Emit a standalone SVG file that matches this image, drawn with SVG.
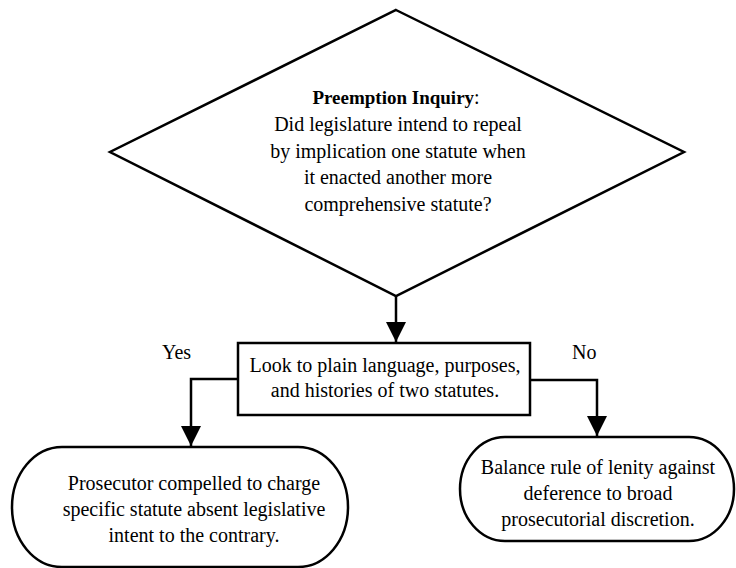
<svg xmlns="http://www.w3.org/2000/svg" width="736" height="568" viewBox="0 0 736 568">
<style>
.s{fill:#fff;stroke:#000;stroke-width:2.5}
.c{fill:none;stroke:#000;stroke-width:2.5}
text{font-family:"Liberation Serif","Times New Roman",serif;font-size:20px;fill:#000}
.m{text-anchor:middle}
.b{font-weight:bold;font-size:19px}
</style>
<defs>
<marker id="ah" markerWidth="20" markerHeight="22" refX="20" refY="10" orient="auto" markerUnits="userSpaceOnUse">
<path d="M0,0 L20,10 L0,20 Z" fill="#000"/>
</marker>
</defs>
<rect width="736" height="568" fill="#fff"/>
<g id="inquiry">
<polygon class="s" points="396,10 684,152 396,296 110,152"/>
<text class="m" x="396" y="104"><tspan class="b">Preemption Inquiry</tspan>:</text>
<text class="m" x="398" y="131">Did legislature intend to repeal</text>
<text class="m" x="398" y="158">by implication one statute when</text>
<text class="m" x="398" y="184">it enacted another more</text>
<text class="m" x="398" y="211">comprehensive statute?</text>
</g>
<g id="look">
<rect class="s" x="238" y="343" width="292" height="72"/>
<text class="m" x="385" y="372">Look to plain language, purposes,</text>
<text class="m" x="385" y="397">and histories of two statutes.</text>
</g>
<g id="prosecutor">
<rect class="s" x="12" y="447" width="336" height="120" rx="50" ry="60"/>
<text class="m" x="194" y="490">Prosecutor compelled to charge</text>
<text class="m" x="194" y="516">specific statute absent legislative</text>
<text class="m" x="194" y="542">intent to the contrary.</text>
</g>
<g id="balance">
<rect class="s" x="460" y="437" width="274" height="104" rx="45" ry="52"/>
<text class="m" x="598" y="474">Balance rule of lenity against</text>
<text class="m" x="598" y="500">deference to broad</text>
<text class="m" x="598" y="526">prosecutorial discretion.</text>
</g>
<g id="connectors">
<path class="c" d="M396,296 V342" marker-end="url(#ah)"/>
<path class="c" d="M238,379 H191 V446" marker-end="url(#ah)"/>
<path class="c" d="M530,380 H597 V436" marker-end="url(#ah)"/>
<text x="162" y="359">Yes</text>
<text x="572" y="359">No</text>
</g>
</svg>
